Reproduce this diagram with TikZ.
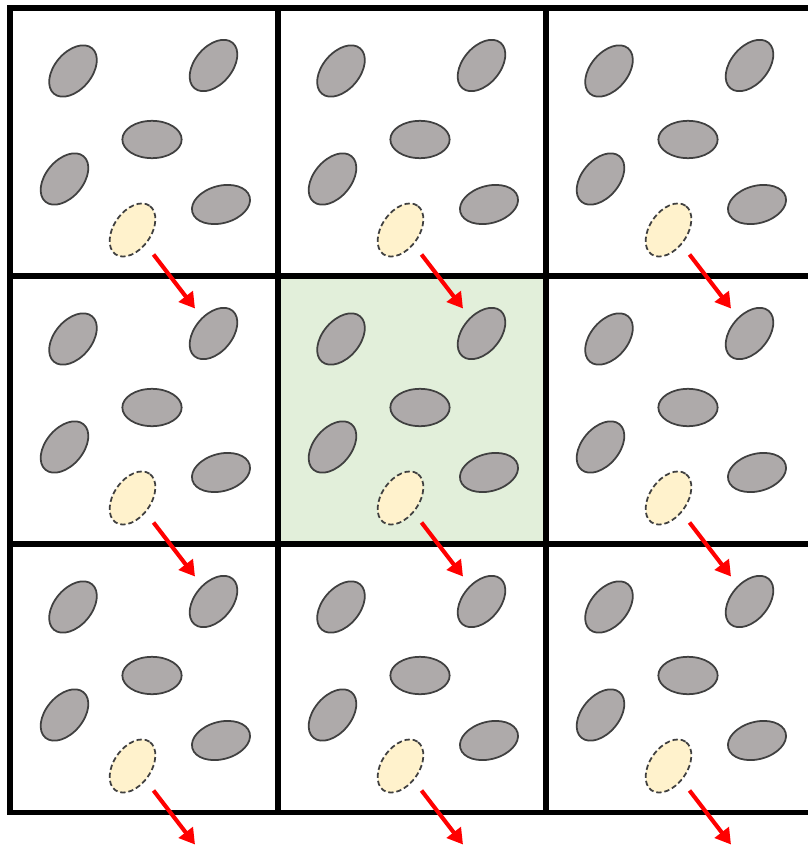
\documentclass[tikz,border=0pt]{standalone}
\usetikzlibrary{positioning, arrows.meta, shapes.geometric}

\definecolor{grainfill}{HTML}{AEAAAA}
\definecolor{grainline}{HTML}{404040}
\definecolor{ghostfill}{HTML}{FFF2CC}
\definecolor{homefill}{HTML}{E2EFDA}

\begin{document}
\begin{tikzpicture}
    [
        x=0.03cm, y=-0.03cm, % 1 unit = 1 px of the sketch
        cell/.style={draw, rectangle, line width=4.3pt, minimum size=8.04cm, inner sep=0pt, outer sep=0pt, anchor=north west},
        grain/.style={draw=grainline, fill=grainfill, ellipse, line width=1.5pt, minimum width=1.78cm, minimum height=1.12cm, inner sep=0pt},
        ghost/.style={grain, fill=ghostfill, dash pattern=on 4.5pt off 2.5pt},
        hop/.style={-{Triangle[width=0.52cm, length=0.46cm]}, red, line width=3.5pt}
    ]
        \useasboundingbox (0,0) rectangle (807,845);
        % =========================================================================
        % NODES
        % =========================================================================
        \foreach \r in {0,1,2} {
            \foreach \c in {0,1,2} {
                \begin{scope}[shift={({10+268*\c},{8+268*\r})}]
                    % --- cell ---
                    \ifnum\r=1 \ifnum\c=1
                        \node [cell, fill=homefill] (cell\r\c) at (0,0) {};
                    \else
                        \node [cell] (cell\r\c) at (0,0) {};
                    \fi \else
                        \node [cell] (cell\r\c) at (0,0) {};
                    \fi
                    % --- grains ---
                    \node [grain, rotate=50] (ga\r\c) at (63,63) {};
                    \node [grain, rotate=50] (gb\r\c) at (203.5,57.5) {};
                    \node [grain] (gc\r\c) at (142,131.5) {};
                    \node [grain, rotate=50] (gd\r\c) at (54.5,171) {};
                    \node [grain, rotate=15] (ge\r\c) at (211,196.5) {};
                    \node [ghost, rotate=55] (gh\r\c) at (122.5,222) {};
                    % --- arrow ends ---
                    \coordinate (from\r\c) at (143.5,246.5);
                    \coordinate (to\r\c) at (185,300.5);
                \end{scope}
            }
        }
        % =========================================================================
        % PATHS
        % =========================================================================
        \foreach \r in {0,1,2} {
            \foreach \c in {0,1,2} {
                \draw [hop] (from\r\c) -- (to\r\c);
            }
        }
    \end{tikzpicture}
\end{document}
